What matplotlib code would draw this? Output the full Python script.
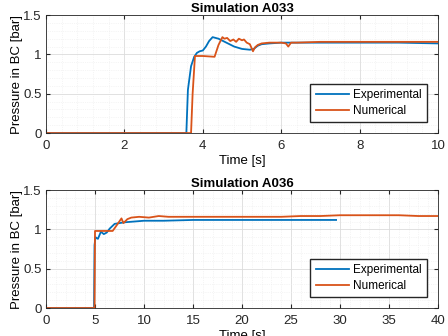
import matplotlib
matplotlib.use("Agg")
import matplotlib.pyplot as plt
from matplotlib.ticker import MultipleLocator, AutoMinorLocator, FuncFormatter

plt.rcParams['font.family'] = ['Liberation Sans', 'DejaVu Sans']

BLUE = '#0072BD'
ORANGE = '#D95319'

# Simulation A033
t1_exp = [0, 3.58, 3.62, 3.70, 3.78, 3.85, 3.92, 4.0, 4.08, 4.16, 4.25, 4.4, 4.6, 4.8, 5.0, 5.2, 5.3, 5.4, 5.5, 5.7, 6.0, 7.0, 8.0, 9.0, 10.0]
p1_exp = [0, 0, 0.55, 0.85, 0.97, 1.02, 1.04, 1.05, 1.10, 1.17, 1.22, 1.20, 1.15, 1.10, 1.07, 1.06, 1.07, 1.11, 1.13, 1.14, 1.15, 1.15, 1.15, 1.15, 1.14]
t1_num = [0, 3.70, 3.74, 3.80, 4.0, 4.30, 4.40, 4.50, 4.55, 4.62, 4.70, 4.78, 4.85, 4.92, 5.0, 5.05, 5.12, 5.2, 5.28, 5.33, 5.4, 5.5, 5.7, 6.0, 6.12, 6.18, 6.25, 6.4, 7.0, 8.0, 9.0, 10.0]
p1_num = [0, 0, 0.50, 0.98, 0.98, 0.97, 1.12, 1.22, 1.20, 1.21, 1.17, 1.19, 1.16, 1.20, 1.18, 1.19, 1.15, 1.13, 1.04, 1.09, 1.12, 1.14, 1.15, 1.15, 1.14, 1.10, 1.15, 1.15, 1.16, 1.16, 1.16, 1.16]

# Simulation A036
t2_exp = [0, 4.9, 4.95, 5.05, 5.3, 5.6, 5.9, 6.2, 6.5, 7.0, 7.5, 8.0, 9.0, 10.0, 12.0, 15.0, 20.0, 25.0, 29.6]
p2_exp = [0, 0, 0.80, 0.90, 0.88, 0.97, 0.94, 0.96, 1.01, 1.07, 1.08, 1.09, 1.10, 1.11, 1.11, 1.12, 1.12, 1.12, 1.12]
t2_num = [0, 4.95, 5.0, 5.5, 6.0, 6.8, 7.2, 7.7, 7.9, 8.3, 8.7, 9.5, 10.5, 11.5, 12.5, 14.0, 16.0, 18.0, 20.0, 22.0, 24.0, 26.0, 28.0, 30.0, 32.0, 34.0, 36.0, 38.0, 40.0]
p2_num = [0, 0, 0.98, 0.98, 0.98, 0.98, 1.05, 1.14, 1.08, 1.13, 1.15, 1.16, 1.15, 1.17, 1.16, 1.16, 1.16, 1.16, 1.16, 1.16, 1.16, 1.17, 1.17, 1.18, 1.18, 1.18, 1.18, 1.17, 1.17]

fig = plt.figure(figsize=(4.48, 3.36), dpi=100)
ax1 = fig.add_axes([0.1027, 0.604, 0.875, 0.351])
ax2 = fig.add_axes([0.1027, 0.0833, 0.875, 0.351])

fmt = FuncFormatter(lambda v, p: f'{v:g}')

def style(ax, xmax, xstep, title):
    ax.set_xlim(0, xmax)
    ax.set_ylim(0, 1.5)
    ax.xaxis.set_major_locator(MultipleLocator(xstep))
    ax.yaxis.set_major_locator(MultipleLocator(0.5))
    ax.xaxis.set_major_formatter(fmt)
    ax.yaxis.set_major_formatter(fmt)
    ax.xaxis.set_minor_locator(AutoMinorLocator(5))
    ax.yaxis.set_minor_locator(AutoMinorLocator(5))
    ax.grid(which='major', color='#dcdcdc', linewidth=0.6)
    ax.grid(which='minor', color='#ececec', linewidth=0.5, linestyle=':')
    ax.set_axisbelow(True)
    ax.tick_params(which='both', direction='in', labelsize=9.5, colors='#262626', length=3, top=True, right=True)
    ax.tick_params(axis='x', pad=5)
    ax.tick_params(axis='y', pad=3)
    ax.tick_params(which='minor', length=0)
    for s in ax.spines.values():
        s.set_color('#262626')
        s.set_linewidth(0.6)
    ax.set_title(title, fontsize=9.5, fontweight='bold', pad=2)
    ax.set_xlabel('Time [s]', fontsize=9.5, labelpad=2)
    ax.set_ylabel('Pressure in BC [bar]', fontsize=9.5, labelpad=0)
    ax.legend(loc='lower right', fontsize=8.5, frameon=True, fancybox=False,
              edgecolor='#262626', framealpha=1, handlelength=2.8, borderaxespad=0.9,
              labelspacing=0.35, borderpad=0.45, handletextpad=0.4)

ax1.plot(t1_exp, p1_exp, color=BLUE, lw=1.3, label='Experimental')
ax1.plot(t1_num, p1_num, color=ORANGE, lw=1.3, label='Numerical')
style(ax1, 10, 2, 'Simulation A033')

ax2.plot(t2_exp, p2_exp, color=BLUE, lw=1.3, label='Experimental')
ax2.plot(t2_num, p2_num, color=ORANGE, lw=1.3, label='Numerical')
style(ax2, 40, 5, 'Simulation A036')

fig.savefig('out.png', dpi=100)
